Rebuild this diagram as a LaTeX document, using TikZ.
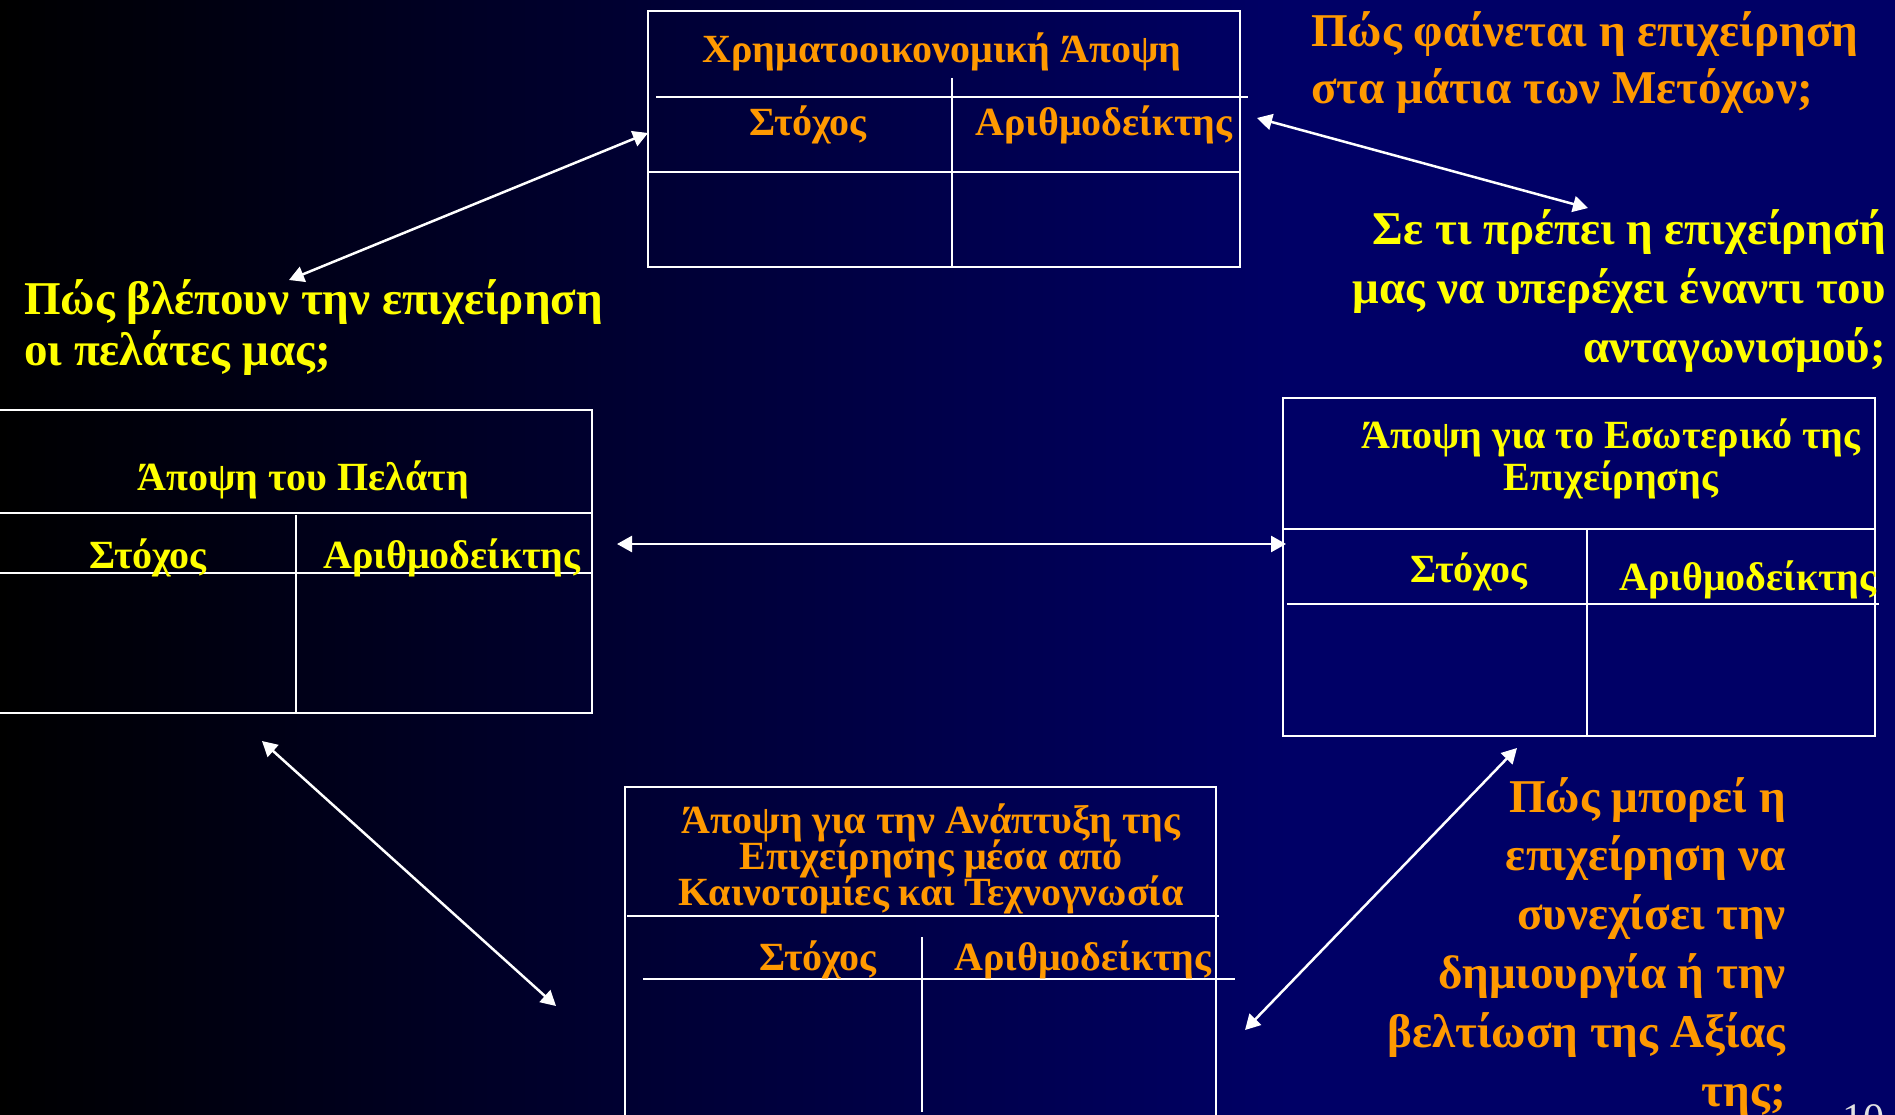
\documentclass[tikz,border=0pt]{standalone}
\usepackage{fontspec}
\setmainfont{Liberation Serif}
\usetikzlibrary{arrows.meta}
\definecolor{navyc}{RGB}{0,0,102}
\definecolor{orng}{RGB}{255,153,0}
\definecolor{ylw}{RGB}{255,255,0}
\definecolor{pgnum}{RGB}{225,225,225}
\pgfdeclarehorizontalshading{bgshade}{100bp}{color(0bp)=(black); color(25bp)=(black); color(59bp)=(navyc); color(100bp)=(navyc)}
\begin{document}
\lineskiplimit=-1000pt
\begin{tikzpicture}[x=1pt,y=-1pt,
  tline/.style={white,line width=2pt},
  biarrow/.style={white,line width=2.5pt,{Triangle[length=15pt,width=16pt]}-{Triangle[length=15pt,width=16pt]}},
  bigtxt/.style={font=\bfseries\fontsize{47}{58}\selectfont,inner sep=0pt},
  tabtxt/.style={font=\bfseries\fontsize{40}{42}\selectfont,inner sep=0pt},
]
\useasboundingbox (0,0) rectangle (1895,1115);
\shade[shading=bgshade] (0,0) rectangle (1895,1115);

% Financial table
\draw[tline] (648,11) rectangle (1240,267);
\draw[tline] (656,97) -- (1248,97);
\draw[tline] (648,172) -- (1240,172);
\draw[tline] (952,78) -- (952,267);
\node[tabtxt,orng,anchor=base] (fin) at (942,63) {Χρηματοοικονομική Άποψη};
\node[tabtxt,orng,anchor=base] (fin1) at (808,136) {Στόχος};
\node[tabtxt,orng,anchor=base] (fin2) at (1104,136) {Αριθμοδείκτης};

% Customer table
\draw[tline] (-10,410) -- (592,410) -- (592,713) -- (-10,713);
\draw[tline] (-10,513) -- (592,513);
\draw[tline] (-10,573) -- (592,573);
\draw[tline] (296,515) -- (296,713);
\node[tabtxt,ylw,anchor=base] (cus) at (303,490) {Άποψη του Πελάτη};
\node[tabtxt,ylw,anchor=base] (cus1) at (148,568) {Στόχος};
\node[tabtxt,ylw,anchor=base] (cus2) at (452,568) {Αριθμοδείκτης};

% Internal table
\draw[tline] (1283,398) rectangle (1875,736);
\draw[tline] (1283,529) -- (1875,529);
\draw[tline] (1287,604) -- (1879,604);
\draw[tline] (1587,529) -- (1587,736);
\node[tabtxt,ylw,anchor=base,align=center,font=\bfseries\fontsize{40}{42}\selectfont] (int) at (1611,490) {Άποψη για το Εσωτερικό της\\Επιχείρησης};
\node[tabtxt,ylw,anchor=base] (int1) at (1469,582) {Στόχος};
\node[tabtxt,ylw,anchor=base] (int2) at (1748,590) {Αριθμοδείκτης};

% Innovation table
\draw[tline] (625,1130) -- (625,787) -- (1216,787) -- (1216,1130);
\draw[tline] (627,916) -- (1219,916);
\draw[tline] (643,979) -- (1235,979);
\draw[tline] (922,937) -- (922,1112);
\node[tabtxt,orng,anchor=base,align=center,font=\bfseries\fontsize{40}{36}\selectfont] (inn) at (931,905) {Άποψη για την Ανάπτυξη της\\Επιχείρησης μέσα από\\Καινοτομίες και Τεχνογνωσία};
\node[tabtxt,orng,anchor=base] (inn1) at (818,970) {Στόχος};
\node[tabtxt,orng,anchor=base] (inn2) at (1083,970) {Αριθμοδείκτης};

% Questions
\node[bigtxt,orng,align=left,anchor=base west,font=\bfseries\fontsize{47}{57}\selectfont] (q1) at (1311,104) {Πώς φαίνεται η επιχείρηση\\στα μάτια των Μετόχων;};
\node[bigtxt,ylw,align=right,anchor=base east,font=\bfseries\fontsize{47}{59}\selectfont] (q2) at (1886,362) {Σε τι πρέπει η επιχείρησή\\μας να υπερέχει έναντι του\\ανταγωνισμού;};
\node[bigtxt,ylw,align=left,anchor=base west,font=\bfseries\fontsize{47}{51}\selectfont] (q3) at (24,365) {Πώς βλέπουν την επιχείρηση\\οι πελάτες μας;};
\node[bigtxt,orng,align=right,anchor=base east,font=\bfseries\fontsize{47}{58.8}\selectfont] (q4) at (1786,1106) {Πώς μπορεί η\\επιχείρηση να\\συνεχίσει την\\δημιουργία ή την\\βελτίωση της Αξίας\\της;};

\node[font=\fontsize{42}{42}\selectfont,pgnum,anchor=base west,inner sep=0pt] (pg) at (1842,1132) {10};

% Arrows
\coordinate (a1s) at (289,280);
\coordinate (a1e) at (648,133);
\coordinate (a2s) at (1257,118);
\coordinate (a2e) at (1588,208);
\coordinate (a3s) at (617,544);
\coordinate (a3e) at (1286,544);
\coordinate (a4s) at (262,741);
\coordinate (a4e) at (556,1006);
\coordinate (a5s) at (1245,1030);
\coordinate (a5e) at (1517,748);
\draw[biarrow] (a1s) -- (a1e);
\draw[biarrow] (a2s) -- (a2e);
\draw[biarrow] (a3s) -- (a3e);
\draw[biarrow] (a4s) -- (a4e);
\draw[biarrow] (a5s) -- (a5e);
\end{tikzpicture}
\end{document}
